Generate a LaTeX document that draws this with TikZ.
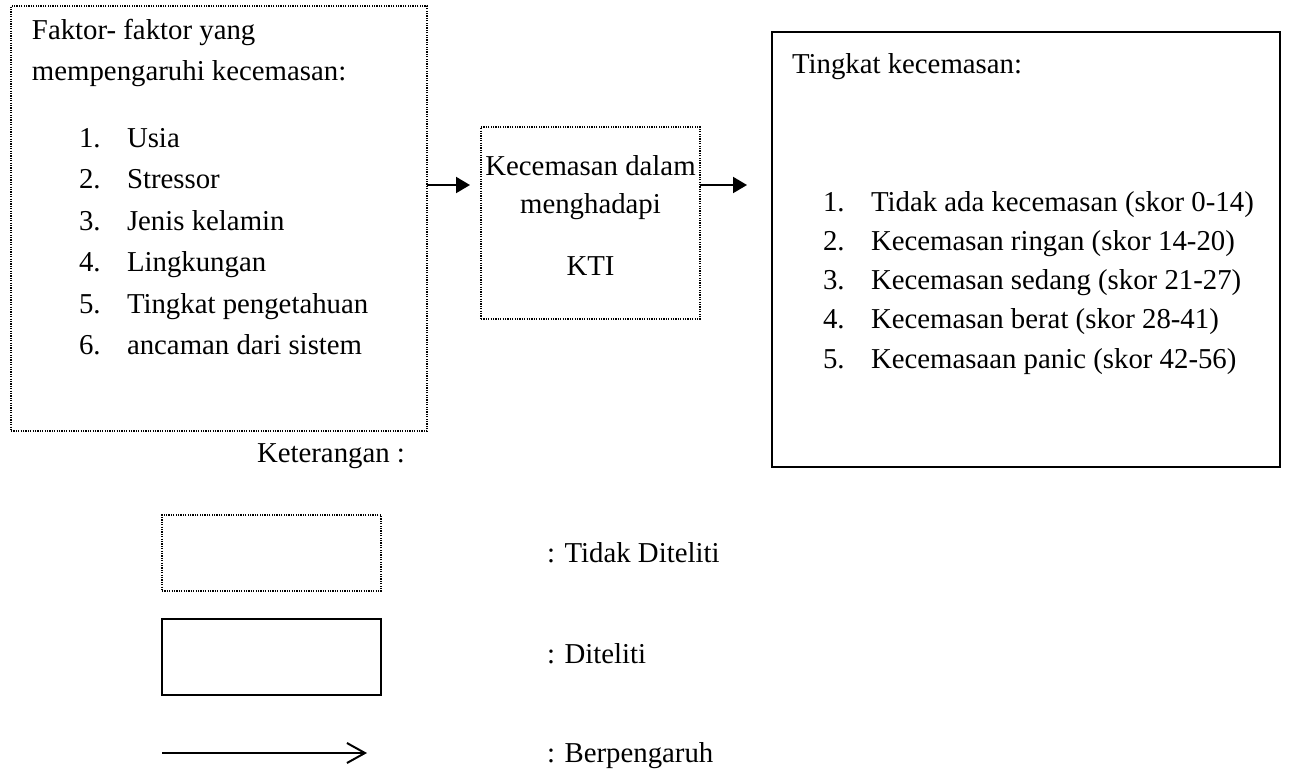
\documentclass[tikz,border=0pt]{standalone}
\usepackage{fontspec}
\setmainfont{Liberation Serif}
\usetikzlibrary{arrows.meta}
\begin{document}
\begin{tikzpicture}[x=0.5pt,y=-0.5pt,
  every node/.style={inner sep=0pt,outer sep=0pt,font=\fontsize{14.4}{16}\selectfont},
  dotbox/.style={draw,line width=0.6pt,dash pattern=on 0.6pt off 0.6pt,rectangle},
  solidbox/.style={draw,line width=1.2pt,rectangle},
  txt/.style={anchor=base west},
  ctxt/.style={anchor=base},
  arr/.style={line width=1pt,-{Triangle[length=7pt,width=8pt]}},
  legarr/.style={line width=1pt,-{Straight Barb[length=9pt,width=10pt,line width=1pt]}}
]
\useasboundingbox (0,0) rectangle (1290,773);
% boxes
\node[dotbox,minimum width=208pt,minimum height=212.5pt] (f) at (219,218.5) {};
\node[dotbox,minimum width=109.5pt,minimum height=96pt] (k) at (590.5,223) {};
\node[solidbox,line width=1.4pt,minimum width=254pt,minimum height=217.5pt] (t) at (1026,249.5) {};
% left texts
\node[txt] (f0) at (32,39) {Faktor- faktor yang};
\node[txt] (f00) at (32,80) {mempengaruhi kecemasan:};
\node[txt] (n1) at (79,147) {1.};   \node[txt] (i1) at (127,147) {Usia};
\node[txt] (n2) at (79,188.5) {2.}; \node[txt] (i2) at (127,188.5) {Stressor};
\node[txt] (n3) at (79,230) {3.};   \node[txt] (i3) at (127,230) {Jenis kelamin};
\node[txt] (n4) at (79,271.5) {4.}; \node[txt] (i4) at (127,271.5) {Lingkungan};
\node[txt] (n5) at (79,313) {5.};   \node[txt] (i5) at (127,313) {Tingkat pengetahuan};
\node[txt] (n6) at (79,354.5) {6.}; \node[txt] (i6) at (127,354.5) {ancaman dari sistem};
% middle texts
\node[ctxt] (k1) at (590.5,175) {Kecemasan dalam};
\node[ctxt] (k2) at (590.5,213) {menghadapi};
\node[ctxt] (k3) at (590.5,275) {KTI};
% right texts
\node[txt] (t0) at (792,73) {Tingkat kecemasan:};
\node[txt] (m1) at (823,211) {1.}; \node[txt] (j1) at (871,211) {Tidak ada kecemasan (skor 0-14)};
\node[txt] (m2) at (823,250.3) {2.}; \node[txt] (j2) at (871,250.3) {Kecemasan ringan (skor 14-20)};
\node[txt] (m3) at (823,289.6) {3.}; \node[txt] (j3) at (871,289.6) {Kecemasan sedang (skor 21-27)};
\node[txt] (m4) at (823,328.9) {4.}; \node[txt] (j4) at (871,328.9) {Kecemasan berat (skor 28-41)};
\node[txt] (m5) at (823,368.2) {5.}; \node[txt] (j5) at (871,368.2) {Kecemasaan panic (skor 42-56)};
% arrows
\coordinate (ay) at (0,185);
\draw[arr,shorten >=5.5pt] (f.east |- ay) -- (k.west |- ay);
\draw[arr,shorten >=12.5pt] (k.east |- ay) -- (t.west |- ay);
% legend
\node[txt] (ket) at (257,462) {Keterangan :};
\node[dotbox,minimum width=109.5pt,minimum height=38pt] (l1) at (271.5,553) {};
\node[solidbox,minimum width=109.5pt,minimum height=38pt] (l2) at (271.5,657) {};
\coordinate (la1) at (162,753);
\coordinate (la2) at (367,753);
\draw[legarr] (la1) -- (la2);
\node[txt] (d1) at (547,562) {: Tidak Diteliti};
\node[txt] (d2) at (547,663) {: Diteliti};
\node[txt] (d3) at (547,762) {: Berpengaruh};
\end{tikzpicture}
\end{document}
